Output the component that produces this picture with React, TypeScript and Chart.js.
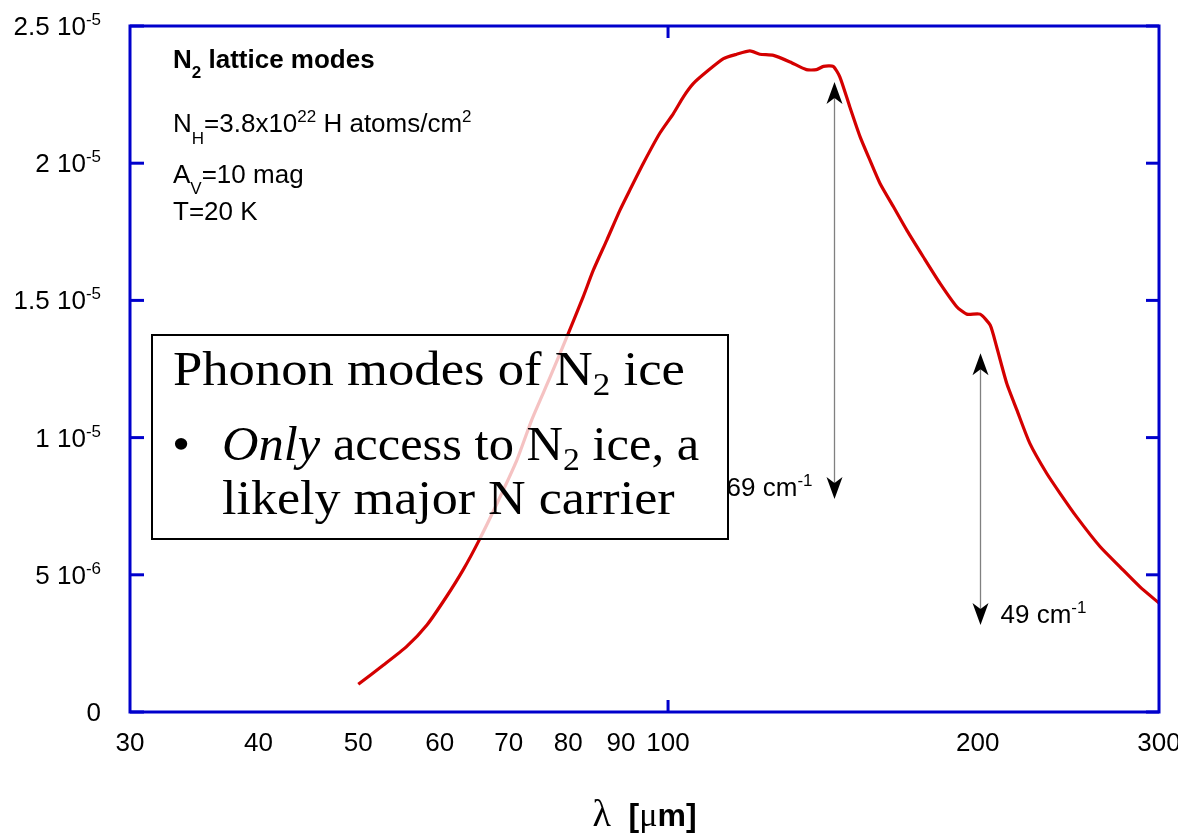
import React, { useEffect, useRef } from "react";
import { Chart, registerables } from "chart.js";

Chart.register(...registerables);

// Modelled far-IR absorption of the N2 lattice (phonon) modes
const wavelengthUm = [
  50, 52.9, 55.7, 58.3, 60.9, 63.2, 65.4, 68.2, 71.3, 73.7, 76.8, 80.0, 82.7, 84.6, 87.2,
  89.8, 91.8, 94.6, 98.2, 101.2, 103.5, 105.8, 109.0, 113.2, 116.6, 120.1, 122.8, 126.6,
  131.4, 136.3, 139.4, 141.6, 144.7, 146.9, 150.2, 153.7, 157.1, 160.7, 165.6, 170.6,
  177.0, 183.8, 190.8, 195.1, 201.0, 205.6, 208.6, 213.4, 218.3, 224.7, 233.3, 240.4,
  249.5, 263.0, 274.9, 287.5, 300,
];
// absorption in units of 1e-5
const absorptionE5 = [
  0.101, 0.171, 0.238, 0.317, 0.42, 0.517, 0.62, 0.76, 0.918, 1.064, 1.22, 1.38, 1.513,
  1.61, 1.72, 1.829, 1.902, 1.999, 2.11, 2.181, 2.242, 2.29, 2.333, 2.381, 2.397, 2.409,
  2.397, 2.393, 2.369, 2.341, 2.341, 2.353, 2.353, 2.314, 2.205, 2.096, 2.011, 1.926,
  1.841, 1.756, 1.659, 1.562, 1.477, 1.45, 1.45, 1.41, 1.331, 1.197, 1.1, 0.979, 0.87,
  0.797, 0.711, 0.602, 0.529, 0.456, 0.397,
];

const xTickLabels = [30, 40, 50, 60, 70, 80, 90, 100, 200, 300];
const xTickMarks = [100];
const yTickValues = [0, 0.5e-5, 1e-5, 1.5e-5, 2e-5, 2.5e-5];
const yTickMantissas = ["0", "5", "1", "1.5", "2", "2.5"];
const yTickExponents = ["", "-6", "-5", "-5", "-5", "-5"];

// Lattice mode markers (wavenumber label, wavelength of arrow, arrow span)
const modeWavenumbers = ["69", "49"];
const modeArrowWavelength = [145, 201];
const modeArrowLow = [0.776e-5, 0.317e-5];
const modeArrowHigh = [2.296e-5, 1.307e-5];

const BLUE = "#0000cc";
const RED = "#d40000";
const SANS = '"Liberation Sans", Arial, Helvetica, sans-serif';
const SERIF = '"Liberation Serif", "Times New Roman", serif';

type Run = { text: string; font: string; dy?: number };

function runsWidth(ctx: CanvasRenderingContext2D, runs: Run[]) {
  let w = 0;
  for (const r of runs) {
    ctx.font = r.font;
    w += ctx.measureText(r.text).width;
  }
  return w;
}

function drawRuns(
  ctx: CanvasRenderingContext2D,
  runs: Run[],
  x: number,
  y: number,
  align: "left" | "right" | "center" = "left"
) {
  const w = runsWidth(ctx, runs);
  let cx = align === "right" ? x - w : align === "center" ? x - w / 2 : x;
  ctx.textAlign = "left";
  ctx.textBaseline = "alphabetic";
  for (const r of runs) {
    ctx.font = r.font;
    ctx.fillText(r.text, cx, y + (r.dy || 0));
    cx += ctx.measureText(r.text).width;
  }
}

function seg(ctx: CanvasRenderingContext2D, x1: number, y1: number, x2: number, y2: number) {
  ctx.beginPath();
  ctx.moveTo(x1, y1);
  ctx.lineTo(x2, y2);
  ctx.stroke();
}

function arrowHead(ctx: CanvasRenderingContext2D, x: number, y: number, dir: number) {
  // dir = -1 points up, +1 points down
  ctx.beginPath();
  ctx.moveTo(x, y);
  ctx.lineTo(x - 8, y - dir * 22);
  ctx.lineTo(x, y - dir * 16);
  ctx.lineTo(x + 8, y - dir * 22);
  ctx.closePath();
  ctx.fill();
}

const framePlugin = {
  id: "frameAndNotes",
  afterDatasetsDraw(chart: any) {
    const { ctx, chartArea: a, scales } = chart;
    const xs = scales.x;
    const ys = scales.y;
    ctx.save();

    // plot frame and inward ticks
    ctx.strokeStyle = BLUE;
    ctx.lineWidth = 3;
    ctx.lineCap = "butt";
    ctx.strokeRect(a.left, a.top, a.right - a.left, a.bottom - a.top);
    for (const v of yTickValues) {
      const py = ys.getPixelForValue(v);
      seg(ctx, a.left, py, a.left + 14, py);
      seg(ctx, a.right - 13, py, a.right, py);
    }
    for (const v of xTickMarks) {
      const px = xs.getPixelForValue(v);
      seg(ctx, px, a.bottom, px, a.bottom - 12);
      seg(ctx, px, a.top, px, a.top + 12);
    }

    // tick labels
    ctx.fillStyle = "#000";
    const f26 = `26px ${SANS}`;
    const f17 = `17px ${SANS}`;
    yTickValues.forEach((v, i) => {
      const py = ys.getPixelForValue(v);
      const runs: Run[] = [{ text: yTickMantissas[i] + (yTickExponents[i] ? " 10" : ""), font: f26 }];
      if (yTickExponents[i]) runs.push({ text: yTickExponents[i], font: f17, dy: -10 });
      drawRuns(ctx, runs, a.left - 29, py + 9, "right");
    });
    for (const v of xTickLabels) {
      const px = xs.getPixelForValue(v);
      drawRuns(ctx, [{ text: String(v), font: f26 }], px, a.bottom + 39, "center");
    }

    // axis title: λ  [μm]
    drawRuns(
      ctx,
      [
        { text: "λ", font: `38px ${SERIF}` },
        { text: "  [", font: `bold 32px ${SANS}` },
        { text: "μ", font: `34px ${SERIF}` },
        { text: "m]", font: `bold 32px ${SANS}` },
      ],
      (a.left + a.right) / 2,
      a.bottom + 114,
      "center"
    );

    // parameter block
    const tx = a.left + 43;
    const b26 = `bold 26px ${SANS}`;
    const b17 = `bold 17px ${SANS}`;
    drawRuns(ctx, [
      { text: "N", font: b26 },
      { text: "2", font: b17, dy: 10 },
      { text: " lattice modes", font: b26 },
    ], tx, a.top + 42);
    drawRuns(ctx, [
      { text: "N", font: f26 },
      { text: "H", font: f17, dy: 12 },
      { text: "=3.8x10", font: f26 },
      { text: "22", font: f17, dy: -10 },
      { text: " H atoms/cm", font: f26 },
      { text: "2", font: f17, dy: -10 },
    ], tx, a.top + 106);
    drawRuns(ctx, [
      { text: "A", font: f26 },
      { text: "V", font: f17, dy: 11 },
      { text: "=10 mag", font: f26 },
    ], tx, a.top + 157);
    drawRuns(ctx, [{ text: "T=20 K", font: f26 }], tx, a.top + 194);

    // lattice mode arrows
    modeWavenumbers.forEach((wn, i) => {
      const px = Math.round(xs.getPixelForValue(modeArrowWavelength[i])) + 0.5;
      const yLo = ys.getPixelForValue(modeArrowLow[i]);
      const yHi = ys.getPixelForValue(modeArrowHigh[i]);
      ctx.strokeStyle = "#808080";
      ctx.lineWidth = 1.3;
      seg(ctx, px, yHi + 10, px, yLo - 10);
      ctx.fillStyle = "#000";
      arrowHead(ctx, px, yHi, -1);
      arrowHead(ctx, px, yLo, 1);
      const runs: Run[] = [
        { text: wn + " cm", font: f26 },
        { text: "-1", font: f17, dy: -10 },
      ];
      if (i === 0) drawRuns(ctx, runs, px - 22, yLo - 3, "right");
      else drawRuns(ctx, runs, px + 20, yLo - 2, "left");
    });

    // overlaid summary box
    const bx = a.left + 22;
    const by = a.top + 309;
    const bw = 576;
    const bh = 204;
    ctx.fillStyle = "rgba(255,255,255,0.76)";
    ctx.fillRect(bx, by, bw, bh);
    ctx.strokeStyle = "#000";
    ctx.lineWidth = 2;
    ctx.strokeRect(bx, by, bw, bh);

    ctx.fillStyle = "#000";
    const s48 = `48px ${SERIF}`;
    const s32 = `32px ${SERIF}`;
    const i48 = `italic 48px ${SERIF}`;
    const line = (runs: Run[], x: number, y: number, stretch: number) => {
      ctx.save();
      ctx.translate(x, y);
      ctx.scale(stretch, 1);
      drawRuns(ctx, runs, 0, 0);
      ctx.restore();
    };
    line([
      { text: "Phonon modes of N", font: s48 },
      { text: "2", font: s32, dy: 10 },
      { text: " ice", font: s48 },
    ], bx + 21, by + 50, 1.097);
    line([{ text: "•", font: s48 }], bx + 20, by + 125, 1.08);
    line([
      { text: "Only", font: i48 },
      { text: " access to N", font: s48 },
      { text: "2", font: s32, dy: 10 },
      { text: " ice, a", font: s48 },
    ], bx + 70, by + 125, 1.053);
    line([{ text: "likely major N carrier", font: s48 }], bx + 70, by + 179, 1.085);

    ctx.restore();
  },
};

export default function App() {
  const canvasRef = useRef<HTMLCanvasElement | null>(null);

  useEffect(() => {
    const canvas = canvasRef.current;
    if (!canvas) return;
    const points = wavelengthUm.map((w, i) => ({ x: w, y: absorptionE5[i] * 1e-5 }));
    const chart = new Chart(canvas, {
      type: "line",
      data: {
        datasets: [
          {
            data: points,
            borderColor: RED,
            borderWidth: 3.2,
            pointRadius: 0,
            tension: 0.2,
            fill: false,
          },
        ],
      },
      options: {
        animation: false,
        responsive: false,
        devicePixelRatio: 1,
        layout: { padding: { left: 130, top: 26, right: 19, bottom: 124 } },
        plugins: { legend: { display: false }, tooltip: { enabled: false } },
        scales: {
          x: {
            type: "logarithmic",
            min: 30,
            max: 300,
            display: false,
            afterBuildTicks: (scale: any) => {
              scale.ticks = xTickLabels.map((v) => ({ value: v }));
            },
          },
          y: {
            type: "linear",
            min: 0,
            max: 2.5e-5,
            display: false,
            afterBuildTicks: (scale: any) => {
              scale.ticks = yTickValues.map((v) => ({ value: v }));
            },
          },
        },
      },
      plugins: [framePlugin],
    } as any);
    return () => chart.destroy();
  }, []);

  return (
    <div style={{ position: "fixed", left: 0, top: 0, width: 1178, height: 836, background: "#fff" }}>
      <canvas ref={canvasRef} width={1178} height={836} />
    </div>
  );
}
